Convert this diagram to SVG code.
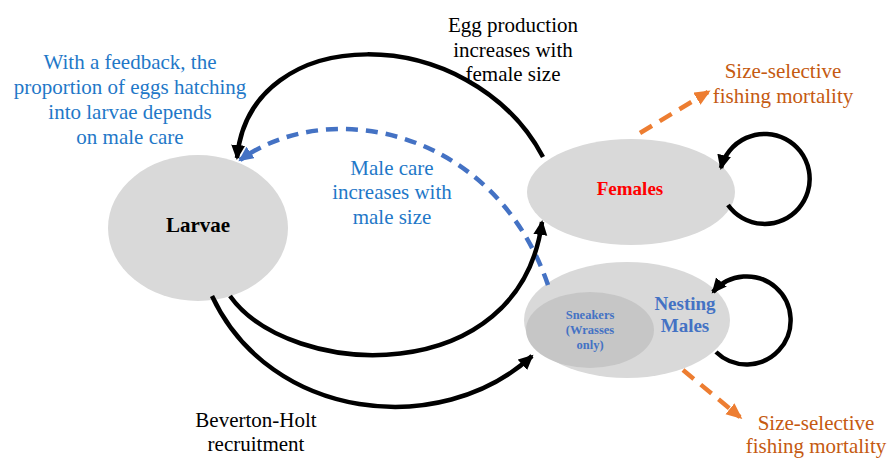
<svg xmlns="http://www.w3.org/2000/svg" width="890" height="458" viewBox="0 0 890 458">
<style>
  .node { fill: #d9d9d9; }
  .inner { fill: #c6c6c6; }
  text { font-family: 'Liberation Serif', 'Times New Roman', serif; font-size: 21px; text-anchor: middle; }
  .b { font-weight: bold; }
  .m { font-size: 19px; }
  .s { font-size: 12.5px; }
  .black { fill: #000000; }
  .blue { fill: #1f78c8; }
  .nblue { fill: #4472c4; }
  .red { fill: #ff0000; }
  .orange { fill: #c55a11; }
  .solid { fill: none; stroke: #000000; stroke-width: 4.5; }
  .dashb { fill: none; stroke: #4472c4; stroke-width: 4.5; stroke-dasharray: 12 8; }
  .dasho { fill: none; stroke: #ed7d31; stroke-width: 4.5; stroke-dasharray: 14 9; }
</style>
<defs>
  <marker id="ahBlack" markerUnits="userSpaceOnUse" markerWidth="16" markerHeight="16" refX="13" refY="7" orient="auto">
    <path d="M0,0 L15,7 L0,14 z" fill="#000000"/>
  </marker>
  <marker id="ahBlue" markerUnits="userSpaceOnUse" markerWidth="18" markerHeight="16" refX="13" refY="7" orient="auto">
    <path d="M0,0 L15,7 L0,14 z" fill="#4472c4"/>
  </marker>
  <marker id="ahOrange" markerUnits="userSpaceOnUse" markerWidth="18" markerHeight="16" refX="13" refY="7" orient="auto">
    <path d="M0,0 L16,7 L0,14 z" fill="#ed7d31"/>
  </marker>
</defs>

<g id="larvae">
  <ellipse class="node" cx="198" cy="228" rx="90" ry="73"/>
  <text class="b black" x="198" y="232">Larvae</text>
</g>

<g id="females">
  <ellipse class="node" cx="631" cy="192" rx="104" ry="53"/>
  <text class="b m red" x="630" y="195">Females</text>
</g>

<g id="males">
  <ellipse class="node" cx="627" cy="320" rx="103" ry="58"/>
  <ellipse class="inner" cx="590" cy="330" rx="64" ry="38"/>
  <text class="b m nblue" x="685" y="310">Nesting</text>
  <text class="b m nblue" x="685" y="332">Males</text>
  <text class="b s nblue" x="590" y="319">Sneakers</text>
  <text class="b s nblue" x="590" y="334">(Wrasses</text>
  <text class="b s nblue" x="590" y="349">only)</text>
</g>

<g id="connectors">
  <path class="solid" d="M543,157 C470,20 250,20 237,158" marker-end="url(#ahBlack)"/>
  <path class="dashb" d="M548,285 C495,130 330,95 240,160" marker-end="url(#ahBlue)"/>
  <path class="solid" d="M230,296 C290,380 520,390 542,222" marker-end="url(#ahBlack)"/>
  <path class="solid" d="M212,296 C270,420 440,440 532,356" marker-end="url(#ahBlack)"/>
  <path class="solid" d="M728,205 A45,45 0 1 0 721,168" marker-end="url(#ahBlack)"/>
  <path class="solid" d="M716,352 A44,44 0 1 0 713,292" marker-end="url(#ahBlack)"/>
  <path class="dasho" d="M640,133 L708,92" marker-end="url(#ahOrange)"/>
  <path class="dasho" d="M683,370 L740,417" marker-end="url(#ahOrange)"/>
</g>

<g id="labels">
  <text class="blue" x="130" y="69">With a feedback, the</text>
  <text class="blue" x="130" y="94">proportion of eggs hatching</text>
  <text class="blue" x="130" y="119">into larvae depends</text>
  <text class="blue" x="130" y="144">on male care</text>

  <text class="black" x="513" y="32">Egg production</text>
  <text class="black" x="513" y="57">increases with</text>
  <text class="black" x="513" y="81">female size</text>

  <text class="blue" x="392" y="175">Male care</text>
  <text class="blue" x="392" y="199">increases with</text>
  <text class="blue" x="392" y="224">male size</text>

  <text class="orange" x="783" y="78">Size-selective</text>
  <text class="orange" x="783" y="103">fishing mortality</text>

  <text class="orange" x="816" y="430">Size-selective</text>
  <text class="orange" x="816" y="453">fishing mortality</text>

  <text class="black" x="256" y="427">Beverton-Holt</text>
  <text class="black" x="256" y="451">recruitment</text>
</g>
</svg>
